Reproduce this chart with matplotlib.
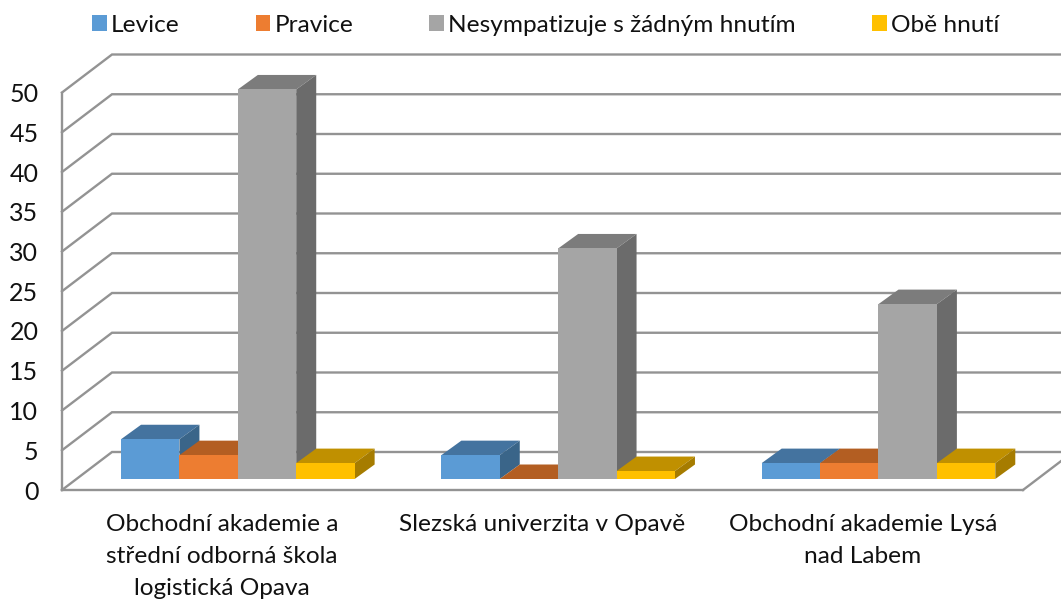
import matplotlib
matplotlib.use("Agg")
import matplotlib.pyplot as plt
from matplotlib.patches import Polygon

categories = ["Obchodní akademie a\nstřední odborná škola\nlogistická Opava",
              "Slezská univerzita v Opavě",
              "Obchodní akademie Lysá\nnad Labem"]
series_names = ["Levice", "Pravice", "Nesympatizuje s žádným hnutím", "Obě hnutí"]
levice = [5, 3, 2]
pravice = [3, 0, 2]
nesympatizuje = [49, 29, 22]
obe = [2, 1, 2]
y_ticks = [0, 5, 10, 15, 20, 25, 30, 35, 40, 45, 50]

front_colors = ["#5B9BD5", "#ED7D31", "#A5A5A5", "#FFC000"]
top_colors = ["#44739F", "#B35E22", "#7C7C7C", "#C09000"]
side_colors = ["#3A6589", "#A0541E", "#6B6B6B", "#A67C00"]
grid_color = "#939393"

W, H = 1061, 601
plt.rcParams["font.family"] = ["Lato", "DejaVu Sans"]
fig = plt.figure(figsize=(W / 100, H / 100), dpi=100)
L, R, B, T = 62, 1023, 490, 92.5
ax = fig.add_axes([L / W, 1 - B / H, (R - L) / W, (B - T) / H])
ax.set_xlim(0, 3)
ax.set_ylim(0, 50)

px_x = 3 / (R - L)
px_y = 50 / (B - T)
wall_dx, wall_dy = 50 * px_x, 38 * px_y
depth_dx, depth_dy = 20 * px_x, 14.5 * px_y
base_dx, base_dy = 14.5 * px_x, 11 * px_y
bar_w = 58.4 * px_x
start = 0.139
lw = 1.7

for v in y_ticks:
    ax.plot([0, wall_dx, 3 + wall_dx], [v, v + wall_dy, v + wall_dy],
            color=grid_color, lw=lw, zorder=1, clip_on=False, solid_joinstyle="miter")
ax.plot([3, 3 + wall_dx], [0, wall_dy], color=grid_color, lw=lw, zorder=1, clip_on=False)

for s in ["top", "right"]:
    ax.spines[s].set_visible(False)
for s in ["left", "bottom"]:
    ax.spines[s].set_color(grid_color)
    ax.spines[s].set_linewidth(lw)
    ax.spines[s].set_zorder(1.5)

all_series = [levice, pravice, nesympatizuje, obe]
z = 3
for c in range(len(categories)):
    for i, values in enumerate(all_series):
        v = values[c]
        x0 = c + start + base_dx + i * bar_w
        x1 = x0 + bar_w
        b = base_dy
        t = b + v
        ax.add_patch(Polygon([(x0, t), (x1, t), (x1 + depth_dx, t + depth_dy), (x0 + depth_dx, t + depth_dy)],
                             closed=True, fc=top_colors[i], ec="none", zorder=z, clip_on=False))
        ax.add_patch(Polygon([(x1, b), (x1 + depth_dx, b + depth_dy), (x1 + depth_dx, t + depth_dy), (x1, t)],
                             closed=True, fc=side_colors[i], ec="none", zorder=z, clip_on=False))
        ax.bar(x0, v, bar_w, bottom=b, align="edge", color=front_colors[i],
               zorder=z + 0.5, clip_on=False, label=series_names[i] if c == 0 else None)
        z += 1

ax.set_yticks(y_ticks)
ax.set_xticks([0.5, 1.5, 2.5])
ax.set_xticklabels(categories, linespacing=1.64, fontsize=17.6, color="#111111")
ax.tick_params(axis="x", length=0, pad=17.5)
ax.tick_params(axis="y", length=0, pad=17, labelsize=18, labelcolor="#111111")

leg = fig.legend(loc="center", bbox_to_anchor=(545.5 / W, 1 - 25 / H), ncol=4, frameon=False,
                 fontsize=17.6, handlelength=0.61, handleheight=0.61, handletextpad=0.17,
                 columnspacing=3.1, labelcolor="#111111", borderpad=0, borderaxespad=0)
fig.savefig("out.png", dpi=100, facecolor="white")
